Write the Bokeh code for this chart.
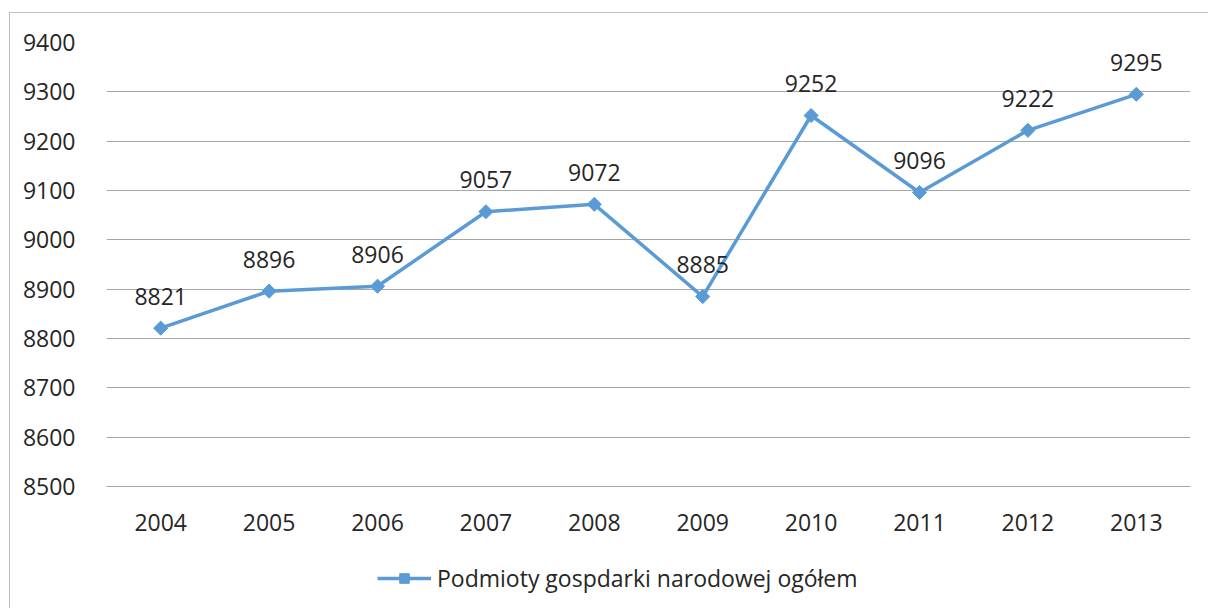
import math
from bokeh.plotting import figure
from bokeh.models import ColumnDataSource, Legend, LegendItem, FixedTicker, LabelSet
from bokeh.core.properties import value
from bokeh.embed import file_html
from bokeh.resources import INLINE

years = ["2004", "2005", "2006", "2007", "2008", "2009", "2010", "2011", "2012", "2013"]
values = [8821, 8896, 8906, 9057, 9072, 8885, 9252, 9096, 9222, 9295]
series_name = "Podmioty gospdarki narodowej ogółem"
y_ticks = [8500, 8600, 8700, 8800, 8900, 9000, 9100, 9200, 9300, 9400]

FONT = "Open Sans"
FS = "23px"
BLUE = "#5B9BD5"
TXT = "#262626"
GRID = "#a6a6a6"

# layout: frame extends below the value axis to leave room for labels + legend
Y_MIN, Y_MAX = 8500, 9400
FRAME_TOP, ZERO_PX, FRAME_BOTTOM = 42, 486, 605
px_per_unit = (ZERO_PX - FRAME_TOP) / (Y_MAX - Y_MIN)
y_start = Y_MIN - (FRAME_BOTTOM - ZERO_PX) / px_per_unit

src = ColumnDataSource(dict(x=years, y=values, lab=[str(v) for v in values]))

p = figure(x_range=years, y_range=(y_start, Y_MAX), width=1199, height=596,
           output_backend="svg", toolbar_location=None,
           min_border_left=96, min_border_right=19, min_border_top=29, min_border_bottom=4)
p.margin = (12, 0, 0, 9)
p.styles = {"border-left": "1px solid #bfbfbf", "border-top": "1px solid #bfbfbf"}
p.x_range.range_padding = 0
p.outline_line_color = None
p.background_fill_color = "white"
p.border_fill_color = "white"

p.xgrid.grid_line_color = None
p.ygrid.grid_line_color = GRID
p.ygrid.grid_line_width = 1

p.yaxis.ticker = FixedTicker(ticks=y_ticks)
for ax in (p.xaxis[0], p.yaxis[0]):
    ax.axis_line_color = None
    ax.major_tick_line_color = None
    ax.minor_tick_line_color = None
    ax.major_label_text_font = FONT
    ax.major_label_text_font_size = FS
    ax.major_label_text_color = TXT
p.xaxis.fixed_location = Y_MIN
p.xaxis.axis_line_color = GRID
p.xaxis.axis_line_width = 1
p.yaxis.major_label_standoff = 25
p.xaxis.major_label_standoff = 21

ln = p.line("x", "y", source=src, line_color=BLUE, line_width=3.5)
mk = p.scatter("x", "y", source=src, marker="square", angle=math.pi / 4, size=10,
               fill_color=BLUE, line_color=BLUE)

labels = LabelSet(x="x", y="y", text="lab", source=src, text_align="center", text_baseline="middle",
                  y_offset=32, text_font=value(FONT), text_font_size=FS, text_color=TXT)
p.add_layout(labels)

legend = Legend(items=[LegendItem(label=series_name, renderers=[ln, mk])],
                location=(271, 11), orientation="horizontal",
                glyph_width=54, glyph_height=24, label_standoff=6, padding=0, margin=0,
                border_line_color=None, background_fill_alpha=0,
                label_text_font=FONT, label_text_font_size=FS, label_text_color=TXT)
p.add_layout(legend)

open("out.html", "w").write(file_html(p, INLINE))
